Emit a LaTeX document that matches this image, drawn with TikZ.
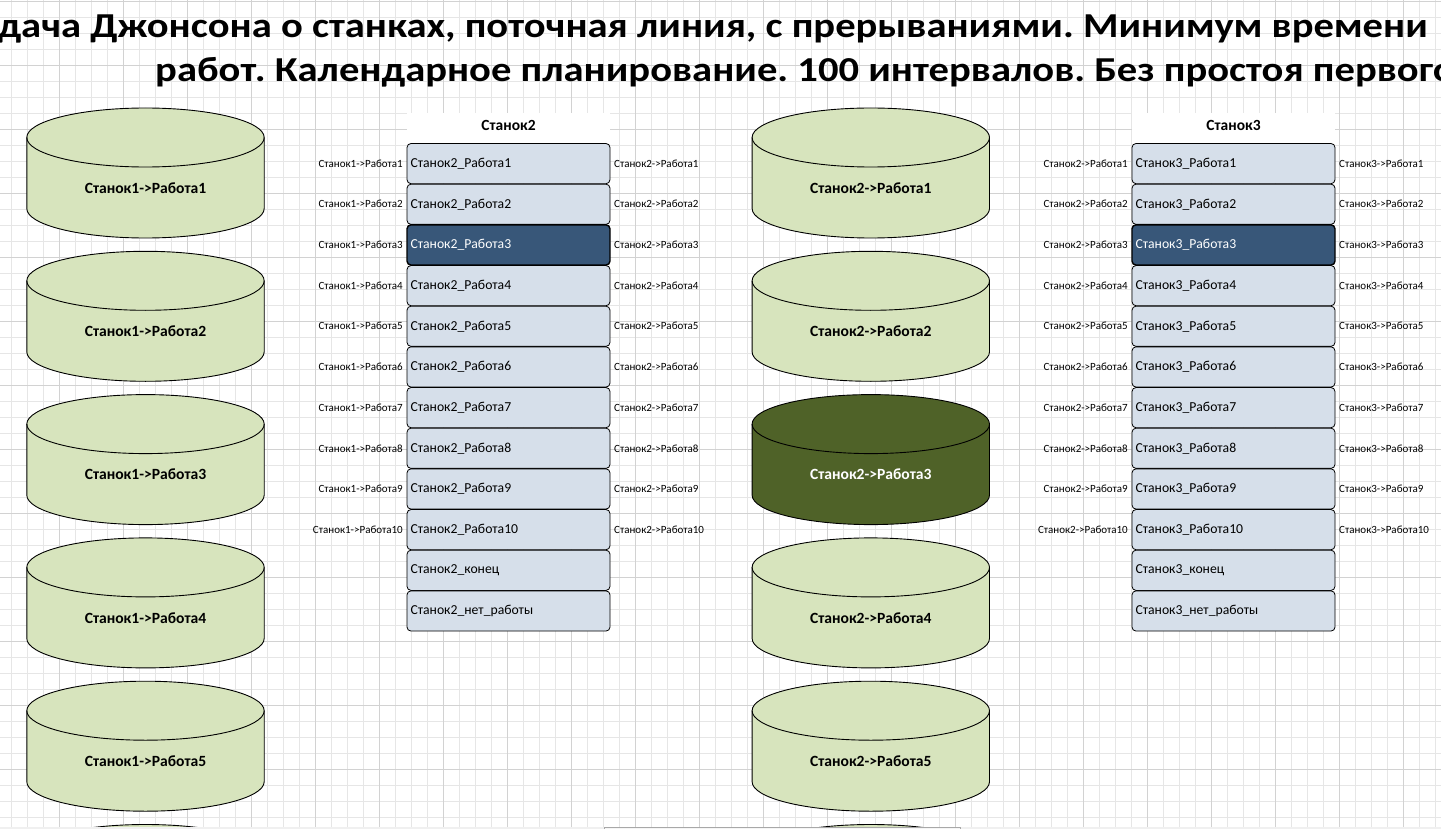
\documentclass[tikz,border=0pt]{standalone}
\usepackage{fontspec}
\setmainfont{Carlito}
\frenchspacing
\definecolor{cylfill}{HTML}{D7E4BD}
\definecolor{cyldark}{HTML}{4F6228}
\definecolor{rowfill}{HTML}{D6DFEA}
\definecolor{rowdark}{HTML}{385779}
\definecolor{gridminor}{HTML}{E6E6E6}
\definecolor{gridmajor}{HTML}{D2D2D2}
\definecolor{barfill}{HTML}{F0F0F0}
\definecolor{barline}{HTML}{A8A8A8}
\tikzset{
  cylline/.style={draw=black, line width=0.9pt},
  cyltext/.style={font=\fontsize{15.6}{18}\selectfont\bfseries, inner sep=0pt},
  rowbox/.style={draw=black, line width=0.8pt, rounded corners=4pt, minimum width=203pt, minimum height=40.2pt,
     text width=196pt, inner xsep=3.5pt, align=left, font=\fontsize{13.7}{16}\selectfont},
  sidelab/.style={font=\fontsize{11}{13}\selectfont, inner sep=0pt},
  headtext/.style={font=\fontsize{15.5}{18}\selectfont\bfseries, inner sep=0pt},
  titletext/.style={font=\fontsize{35}{42}\selectfont\bfseries, inner sep=0pt},
  gmin/.style={draw=gridminor, line width=0.9pt},
  gmaj/.style={draw=gridmajor, line width=1pt}
}
\newcommand{\mycylshape}[3]{%
  \pgfmathsetmacro\cylyt{137.5+143.3*(#2)}%
  \pgfmathsetmacro\cylyb{208.5+143.3*(#2)}%
  \filldraw[fill=#3, cylline] ({#1-118.7},\cylyt) -- ({#1-118.7},\cylyb)
     arc[start angle=180,end angle=360,x radius=118.7pt,y radius=29.5pt]
     -- ({#1+118.7},\cylyt)
     arc[start angle=0,end angle=180,x radius=118.7pt,y radius=29.5pt] -- cycle;
  \draw[cylline] ({#1-118.7},\cylyt) arc[start angle=180,end angle=360,x radius=118.7pt,y radius=29.5pt];
}
\newcommand{\mycyl}[6]{%
  \mycylshape{#1}{#2}{#3}%
  \pgfmathsetmacro\cylyc{188+143.3*(#2)}%
  \node[cyltext, text=#4] (#6) at (#1,\cylyc) {#5};
}
\begin{document}
\begin{tikzpicture}[x=1pt,y=-1pt]
\useasboundingbox (0,0) rectangle (1441,829);
\clip (0,0) rectangle (1441,829);
\fill[white] (0,0) rectangle (1441,829);
% grid
\foreach \i in {0,...,89} {\draw[gmin] ({11.3+16*\i},0) -- ({11.3+16*\i},826.5);}
\foreach \i in {0,...,51} {\draw[gmin] (0,{1.7+16*\i}) -- (1441,{1.7+16*\i});}
\foreach \i in {0,...,22} {\draw[gmaj] ({59.3+64*\i},0) -- ({59.3+64*\i},826.5);}
\foreach \i in {0,...,12} {\draw[gmaj] (0,{1.7+64*\i}) -- (1441,{1.7+64*\i});}
% title
\node[titletext, anchor=base east] (title1) at (1428,37.3) {\scalebox{1.16}[1]{дача Джонсона о станках, поточная линия, с прерываниями. Минимум времени}};
\node[titletext, anchor=base west] (title2) at (155,81.7) {\scalebox{1.16}[1]{работ. Календарное планирование. 100 интервалов. Без простоя первого}};
% cylinders, left column
\foreach \n in {1,...,5} {\mycyl{145.5}{\n-1}{cylfill}{black}{Станок1->Работа\n}{cA\n}}
\mycylshape{145.5}{5}{cylfill}
% cylinders, middle column
\mycyl{870.8}{0}{cylfill}{black}{Станок2->Работа1}{cB1}
\mycyl{870.8}{1}{cylfill}{black}{Станок2->Работа2}{cB2}
\mycyl{870.8}{2}{cyldark}{white}{Станок2->Работа3}{cB3}
\mycyl{870.8}{3}{cylfill}{black}{Станок2->Работа4}{cB4}
\mycyl{870.8}{4}{cylfill}{black}{Станок2->Работа5}{cB5}
\mycylshape{870.8}{5}{cylfill}
% tables
\foreach \tx/\m/\p in {508.5/2/1, 1233.5/3/2} {
  \fill[white] ({\tx-101.5},113) rectangle ({\tx+101.5},143);
  \node[headtext] (head\m) at (\tx,125.5) {Станок\m};
  \foreach \k in {0,...,9} {
    \pgfmathtruncatemacro\j{\k+1}
    \pgfmathsetmacro\ry{163.6+40.67*\k}
    \ifnum\k=2
      \node[rowbox, fill=rowdark, text=white, line width=1.4pt] (r\m-\j) at (\tx,\ry) {Станок\m\_Работа\j};
    \else
      \node[rowbox, fill=rowfill] (r\m-\j) at (\tx,\ry) {Станок\m\_Работа\j};
    \fi
    \node[sidelab, anchor=east] (in\m-\j) at ({\tx-105.5},\ry) {Станок\p->Работа\j};
    \node[sidelab, anchor=west] (out\m-\j) at ({\tx+105.5},\ry) {Станок\m->Работа\j};
  }
  \node[rowbox, fill=rowfill] (r\m-end) at (\tx,{163.6+40.67*10}) {Станок\m\_конец};
  \node[rowbox, fill=rowfill] (r\m-none) at (\tx,{163.6+40.67*11}) {Станок\m\_нет\_работы};
}
% bottom bar
\fill[barfill] (0,826.5) rectangle (1441,829);
\draw[barline, fill=white!96!black] (604.3,827.3) rectangle (960.3,832);
\end{tikzpicture}
\end{document}
